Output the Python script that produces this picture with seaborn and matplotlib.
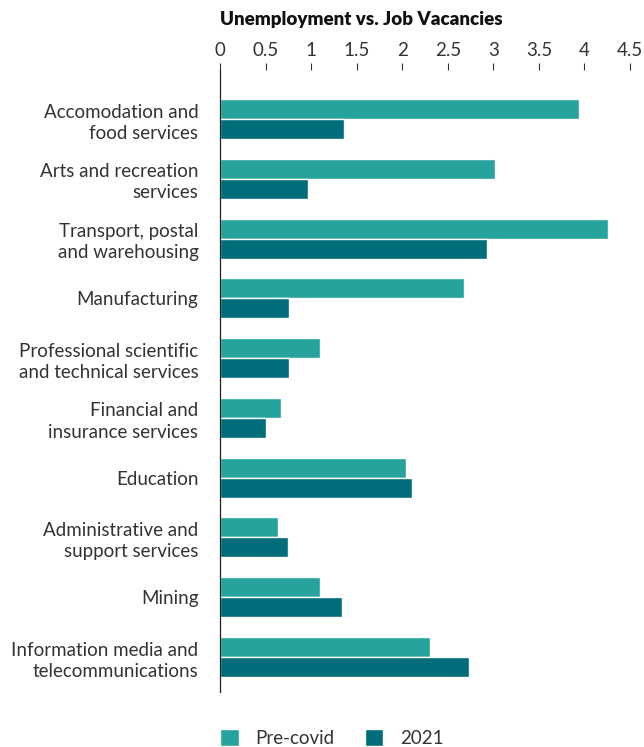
import pandas as pd
import numpy as np
import matplotlib.pyplot as plt
import seaborn as sns

# data

categories = ['Accomodation and\nfood services', 'Arts and recreation\nservices',
              'Transport, postal\nand warehousing', 'Manufacturing',
              'Professional scientific\nand technical services', 'Financial and\ninsurance services',
              'Education', 'Administrative and\nsupport services', 'Mining',
              'Information media and\ntelecommunications']
pre_covid = [3.94, 3.02, 4.26, 2.68, 1.10, 0.67, 2.04, 0.64, 1.10, 2.30]
y2021 = [1.36, 0.97, 2.93, 0.76, 0.76, 0.51, 2.11, 0.75, 1.34, 2.73]
series = ['Pre-covid', '2021']
colors = ['#26A39D', '#006D7A']

df = pd.DataFrame({'category': categories * 2,
                   'value': pre_covid + y2021,
                   'period': [series[0]] * len(categories) + [series[1]] * len(categories)})

sns.set_style('white')
plt.rcParams['font.family'] = ['Lato', 'DejaVu Sans']

fig = plt.figure(figsize=(6.44, 7.47), dpi=100)
ax = fig.add_axes([220 / 644, 1 - 692 / 747, 410 / 644, 622 / 747])

sns.barplot(data=df, y='category', x='value', hue='period', orient='h',
            palette=colors, width=0.67, saturation=1, ax=ax, legend=True)

ax.set_xlim(0, 4.5)
ax.set_ylim(9.585, -0.82)
ax.set_xticks(np.arange(0, 4.51, 0.5))
ax.set_xticklabels(['0', '0.5', '1', '1.5', '2', '2.5', '3', '3.5', '4', '4.5'])
ax.xaxis.tick_top()
ax.tick_params(axis='x', top=True, direction='out', length=5, width=0.8,
               colors='#333333', labelsize=13.5, pad=3)
ax.tick_params(axis='y', left=False, labelsize=13.5, labelcolor='#333333', pad=12)
for lab in ax.get_yticklabels():
    lab.set_linespacing(1.3)

for s in ['top', 'right', 'bottom']:
    ax.spines[s].set_visible(False)
ax.spines['left'].set_color('#222222')
ax.spines['left'].set_linewidth(0.9)
ax.set_xlabel('')
ax.set_ylabel('')

fig.text(220 / 644, 1 - 20 / 747, 'Unemployment vs. Job Vacancies', fontsize=13.5,
         fontweight='heavy', color='#111111', ha='left', va='center')

handles, labels = ax.get_legend_handles_labels()
ax.get_legend().remove()
fig.legend(handles, labels, loc='lower left', bbox_to_anchor=(203 / 644, -0.022), ncol=2,
           frameon=False, fontsize=13.5, handlelength=1.0, handleheight=1.0,
           columnspacing=1.6, handletextpad=0.9, labelcolor='#333333')

plt.savefig('out.png', dpi=100)
